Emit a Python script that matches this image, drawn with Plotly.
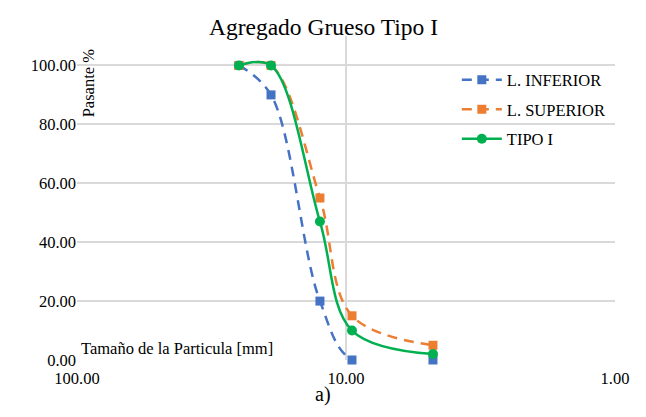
import plotly.graph_objects as go

tamices = [25, 19, 12.5, 9.5, 4.75]
inferior = [100, 90, 20, 0, 0]
superior = [100, 100, 55, 15, 5]
tipo1 = [100, 100, 47, 10, 2]

FONT = "Liberation Serif"
BLUE = "#4472C4"
ORANGE = "#ED7D31"
GREEN = "#00B050"

fig = go.Figure()
fig.add_trace(go.Scatter(x=tamices, y=inferior, name="L. INFERIOR", mode="lines+markers", legendgroup="a",
                         cliponaxis=False,
                         line=dict(color=BLUE, width=2.5, dash="10px,7px", shape="spline", smoothing=1),
                         marker=dict(symbol="square", size=9, color=BLUE)))
fig.add_trace(go.Scatter(x=tamices, y=superior, name="L. SUPERIOR", mode="lines+markers", legendgroup="b",
                         cliponaxis=False,
                         line=dict(color=ORANGE, width=2.5, dash="10px,7px", shape="spline", smoothing=1),
                         marker=dict(symbol="square", size=9, color=ORANGE)))
fig.add_trace(go.Scatter(x=tamices, y=tipo1, name="TIPO I", mode="lines+markers", legendgroup="c",
                         cliponaxis=False,
                         line=dict(color=GREEN, width=2.5, shape="spline", smoothing=1),
                         marker=dict(symbol="circle", size=10, color=GREEN)))

fig.update_layout(
    width=638, height=409,
    margin=dict(l=69, r=31, t=28, b=57),
    paper_bgcolor="white", plot_bgcolor="white",
    font=dict(family=FONT, size=16.5, color="black"),
    title=dict(text="Agregado Grueso Tipo I", x=0.4945, xanchor="center", y=0.975, yanchor="top",
               font=dict(family=FONT, size=23.5, color="black")),
    xaxis=dict(type="log", range=[2, 0], dtick=1, tickformat=".2f", showgrid=True,
               gridcolor="#D9D9D9", gridwidth=1.5, zeroline=False, showline=False, ticks="",
               ticklabelstandoff=6, tickfont=dict(family=FONT, size=16.5)),
    yaxis=dict(range=[0, 110], tickvals=[0, 20, 40, 60, 80, 100], tickformat=".2f", showgrid=True,
               gridcolor="#D9D9D9", gridwidth=1.5, zeroline=False, showline=False, ticks="",
               tickfont=dict(family=FONT, size=16.5)),
    legend=dict(x=0.706, y=0.918, xanchor="left", yanchor="top", bgcolor="rgba(255,255,255,0)",
                font=dict(family=FONT, size=16.5), tracegroupgap=5, traceorder="grouped", itemwidth=40),
    showlegend=True,
    annotations=[
        dict(text="Pasante %", xref="paper", yref="paper", x=0.0, y=0.968, xanchor="left", yanchor="top",
             textangle=-90, showarrow=False, font=dict(family=FONT, size=16.5)),
        dict(text="Tamaño de la Particula [mm]", xref="paper", yref="paper", x=0.003, y=0.037,
             xanchor="left", yanchor="middle", showarrow=False, font=dict(family=FONT, size=16.5)),
        dict(text="a)", xref="paper", yref="paper", x=0.457, y=-0.108, xanchor="center", yanchor="middle",
             showarrow=False, font=dict(family=FONT, size=20)),
    ],
)

fig.write_html("out.html")
